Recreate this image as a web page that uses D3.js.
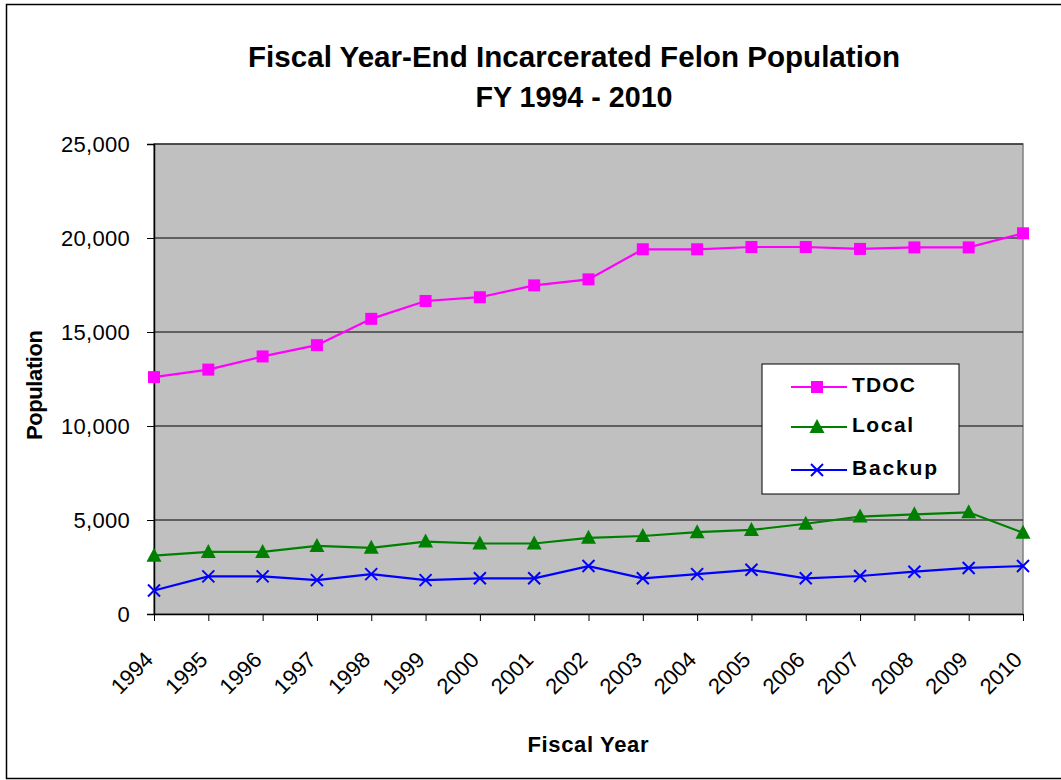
<!DOCTYPE html>
<html><head><meta charset="utf-8">
<script src="https://cdn.jsdelivr.net/npm/d3@7"></script>
<style>body{margin:0;background:#fff;} svg{display:block;}</style>
</head><body>
<svg id="c" width="1061" height="780"></svg>
<script>
const years = ["1994","1995","1996","1997","1998","1999","2000","2001","2002","2003","2004","2005","2006","2007","2008","2009","2010"];
const tdoc =   [12600,13000,13700,14300,15700,16650,16850,17480,17800,19400,19400,19520,19520,19420,19500,19500,20250];
const local =  [3100,3300,3300,3620,3520,3850,3750,3750,4050,4150,4350,4470,4800,5180,5300,5410,4320];
const backup = [1250,2000,2000,1800,2120,1800,1900,1900,2550,1900,2120,2350,1900,2020,2250,2450,2550];
const yTicks = [0,5000,10000,15000,20000,25000];
const seriesNames = ["TDOC","Local","Backup"];

const svg = d3.select("#c");
const L=154, R=1023, T=144, B=614;
const x = d3.scalePoint().domain(years).range([L,R]);
const y = d3.scaleLinear().domain([0,25000]).range([B,T]);
const font = "'Liberation Sans', Arial, sans-serif";
const titleFont = "'Liberation Sans Narrow', 'Arial Narrow', 'Liberation Sans', Arial, sans-serif";

// outer border (right edge lies beyond the canvas)
svg.append("rect").attr("x",6.5).attr("y",4.5).attr("width",1070).attr("height",774)
  .attr("fill","#fff").attr("stroke","#000").attr("stroke-width",1.5);

// plot area
svg.append("rect").attr("x",L).attr("y",T).attr("width",R-L).attr("height",B-T)
  .attr("fill","#C0C0C0").attr("stroke","#808080").attr("stroke-width",1.5);

// gridlines
svg.append("g").selectAll("line").data(yTicks.filter(d=>d>0)).join("line")
  .attr("x1",L).attr("x2",R).attr("y1",d=>y(d)).attr("y2",d=>y(d))
  .attr("stroke","#000").attr("stroke-width",1);

// y axis
const ya = svg.append("g").attr("transform",`translate(${L},0)`)
  .call(d3.axisLeft(y).tickValues(yTicks).tickSize(7).tickPadding(17).tickFormat(d3.format(",")));
ya.select(".domain").attr("stroke","#000").attr("stroke-width",1.5);
ya.selectAll(".tick line").attr("stroke","#000");
ya.selectAll("text").attr("font-family",font).attr("font-size",22).attr("fill","#000")
  .attr("letter-spacing","0.3px");

// x axis
const xa = svg.append("g").attr("transform",`translate(0,${B})`)
  .call(d3.axisBottom(x).tickSize(7).tickSizeOuter(0));
xa.select(".domain").attr("stroke","#000").attr("stroke-width",1.5);
xa.selectAll(".tick line").attr("stroke","#000");
xa.selectAll("text").attr("font-family",font).attr("font-size",22).attr("fill","#000")
  .attr("text-anchor","end").attr("dy",null).attr("y",null)
  .attr("transform","translate(0,47) rotate(-45)");

// series
const series = [
  {name:"TDOC", vals:tdoc, color:"#FF00FF", sym:"square"},
  {name:"Local", vals:local, color:"#008000", sym:"triangle"},
  {name:"Backup", vals:backup, color:"#0000FF", sym:"x"}
];
function marker(g, sym, color){
  if(sym==="square"){
    g.append("rect").attr("x",-6).attr("y",-6).attr("width",12).attr("height",12).attr("fill",color);
  } else if(sym==="triangle"){
    g.append("path").attr("d","M0,-8 L7.5,6 L-7.5,6 Z").attr("fill",color);
  } else {
    g.append("path").attr("d","M-6,-6 L6,6 M-6,6 L6,-6").attr("stroke",color).attr("stroke-width",2).attr("fill","none");
  }
}
const line = d3.line().x((d,i)=>x(years[i])).y(d=>y(d));
series.forEach(s=>{
  svg.append("path").datum(s.vals).attr("d",line).attr("fill","none")
    .attr("stroke",s.color).attr("stroke-width",2.2);
  s.vals.forEach((v,i)=>{
    const g = svg.append("g").attr("transform",`translate(${x(years[i])},${y(v)})`);
    marker(g,s.sym,s.color);
  });
});

// legend
const lg = svg.append("g");
lg.append("rect").attr("x",762).attr("y",364).attr("width",197).attr("height",130)
  .attr("fill","#fff").attr("stroke","#000").attr("stroke-width",1);
const ly = [387,427,470];
const lw = [63,61,85];
series.forEach((s,i)=>{
  lg.append("line").attr("x1",791).attr("x2",847).attr("y1",ly[i]).attr("y2",ly[i])
    .attr("stroke",s.color).attr("stroke-width",2);
  const g = lg.append("g").attr("transform",`translate(817,${ly[i]})`);
  marker(g,s.sym,s.color);
  lg.append("text").attr("x",852).attr("y",ly[i]+5).text(seriesNames[i])
    .attr("font-family",font).attr("font-weight","bold").attr("font-size",21)
    .attr("textLength",lw[i]).attr("lengthAdjust","spacing");
});

// titles
svg.append("text").attr("x",574).attr("y",67).attr("text-anchor","middle")
  .attr("font-family",titleFont).attr("font-weight","bold").attr("font-size",29)
  .attr("textLength",652).attr("lengthAdjust","spacingAndGlyphs")
  .text("Fiscal Year-End Incarcerated Felon Population");
svg.append("text").attr("x",574).attr("y",107).attr("text-anchor","middle")
  .attr("font-family",titleFont).attr("font-weight","bold").attr("font-size",29)
  .attr("textLength",197).attr("lengthAdjust","spacingAndGlyphs")
  .text("FY 1994 - 2010");
svg.append("text").attr("x",588).attr("y",752).attr("text-anchor","middle")
  .attr("font-family",font).attr("font-weight","bold").attr("font-size",22)
  .attr("textLength",121).attr("lengthAdjust","spacing")
  .text("Fiscal Year");
svg.append("text").attr("transform","translate(42,385) rotate(-90)").attr("text-anchor","middle")
  .attr("font-family",font).attr("font-weight","bold").attr("font-size",22)
  .attr("textLength",110).attr("lengthAdjust","spacing")
  .text("Population");
</script>
</body></html>
